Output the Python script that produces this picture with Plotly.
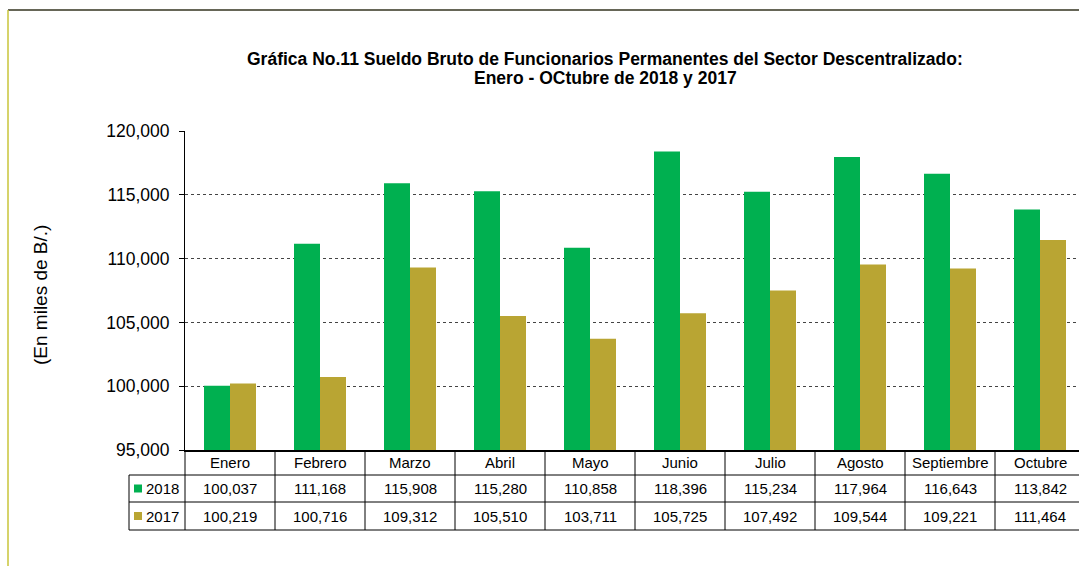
import plotly.graph_objects as go

# ---- data ----
months = ["Enero", "Febrero", "Marzo", "Abril", "Mayo", "Junio", "Julio",
          "Agosto", "Septiembre", "Octubre"]
series_names = ["2018", "2017"]
values_2018 = [100037, 111168, 115908, 115280, 110858, 118396, 115234,
               117964, 116643, 113842]
values_2017 = [100219, 100716, 109312, 105510, 103711, 105725, 107492,
               109544, 109221, 111464]
y_ticks = [95000, 100000, 105000, 110000, 115000, 120000]
title_lines = ["Gráfica No.11 Sueldo Bruto de Funcionarios Permanentes del Sector Descentralizado:",
               "Enero - OCtubre de 2018 y 2017"]
y_label = "(En miles de B/.)"

# ---- style / layout ----
W, H = 1079, 566
L, R, T, B = 185, 0, 131, 116
PW = W - L - R
PH = H - T - B
CAT_W = 90.0
GREEN = "#00B050"
GOLD = "#B9A533"
FONT = "Arial, Liberation Sans, sans-serif"
colors = [GREEN, GOLD]
series_vals = [values_2018, values_2017]

def px_x(px):
    return (px - L) / PW

def px_y(py):
    return (H - B - py) / PH

x_idx = list(range(len(months)))
fig = go.Figure()
for name, vals, col in zip(series_names, series_vals, colors):
    fig.add_trace(go.Bar(x=x_idx, y=vals, name=name, marker=dict(color=col, line=dict(width=0)),
                         showlegend=False))

x_max = -0.5 + PW / CAT_W

shapes = []
annotations = []

# table geometry (pixels)
plot_bottom = H - B
row1_bottom = 475
row2_bottom = 502
row3_bottom = 530
legend_left = 129

# vertical category boundary lines
for k in range(1, len(months) + 1):
    shapes.append(dict(type="line", xref="x", yref="paper", x0=k - 0.5, x1=k - 0.5,
                       y0=px_y(plot_bottom), y1=px_y(row3_bottom),
                       line=dict(color="black", width=1)))
shapes.append(dict(type="line", xref="paper", yref="paper", x0=0, x1=0,
                   y0=px_y(plot_bottom), y1=px_y(row3_bottom), line=dict(color="black", width=1)))
shapes.append(dict(type="line", xref="paper", yref="paper", x0=px_x(legend_left), x1=px_x(legend_left),
                   y0=px_y(row1_bottom), y1=px_y(row3_bottom), line=dict(color="black", width=1)))
for py in (row1_bottom, row2_bottom, row3_bottom):
    shapes.append(dict(type="line", xref="paper", yref="paper", x0=px_x(legend_left), x1=1.01,
                       y0=px_y(py), y1=px_y(py), line=dict(color="black", width=1)))

# header (month names) and values
row_centers = [(plot_bottom + row1_bottom) / 2, (row1_bottom + row2_bottom) / 2,
               (row2_bottom + row3_bottom) / 2]
for i, m in enumerate(months):
    annotations.append(dict(x=i, y=px_y(row_centers[0]), xref="x", yref="paper", text=m,
                            showarrow=False, font=dict(family=FONT, size=15, color="black"),
                            xanchor="center", yanchor="middle"))
    for r, vals in enumerate(series_vals):
        annotations.append(dict(x=i, y=px_y(row_centers[r + 1]), xref="x", yref="paper",
                                text=f"{vals[i]:,}", showarrow=False,
                                font=dict(family=FONT, size=15, color="black"),
                                xanchor="center", yanchor="middle"))

# legend keys
for r, (name, col) in enumerate(zip(series_names, colors)):
    cy = row_centers[r + 1]
    shapes.append(dict(type="rect", xref="paper", yref="paper", x0=px_x(134), x1=px_x(142),
                       y0=px_y(cy + 4), y1=px_y(cy - 4), fillcolor=col, line=dict(width=0)))
    annotations.append(dict(x=px_x(144), y=px_y(cy), xref="paper", yref="paper", text=name,
                            showarrow=False, font=dict(family=FONT, size=15, color="black"),
                            xanchor="left", yanchor="middle"))

# outer chart border
shapes.append(dict(type="line", xref="paper", yref="paper", x0=px_x(8), x1=px_x(1080),
                   y0=px_y(10), y1=px_y(10), line=dict(color="#33331f", width=1.5)))
shapes.append(dict(type="line", xref="paper", yref="paper", x0=px_x(8), x1=px_x(8),
                   y0=px_y(10), y1=px_y(566), line=dict(color="#C8C43A", width=1.5)))

# title (two lines)
for line_text, cy in zip(title_lines, (59, 78)):
    annotations.append(dict(x=px_x(605), y=px_y(cy), xref="paper", yref="paper",
                            text="<b>" + line_text + "</b>",
                            showarrow=False, font=dict(family=FONT, size=17.5, color="black"),
                            xanchor="center", yanchor="middle", align="center"))
# y axis label
annotations.append(dict(x=px_x(40), y=px_y(295), xref="paper", yref="paper", text=y_label,
                        textangle=-90, showarrow=False,
                        font=dict(family=FONT, size=19, color="black"),
                        xanchor="center", yanchor="middle"))

fig.update_layout(
    width=W, height=H,
    margin=dict(l=L, r=R, t=T, b=B, pad=0),
    paper_bgcolor="white", plot_bgcolor="white",
    barmode="group", bargap=1 - 52 / CAT_W, bargroupgap=0,
    font=dict(family=FONT, color="black"),
    shapes=shapes, annotations=annotations,
)
fig.update_xaxes(range=[-0.5, x_max], showticklabels=False, ticks="", showgrid=False,
                 showline=True, linecolor="black", linewidth=2, zeroline=False, fixedrange=True)
fig.update_yaxes(range=[y_ticks[0], y_ticks[-1]], tickvals=y_ticks,
                 ticktext=[f"{v:,}" for v in y_ticks],
                 ticks="outside", ticklen=5, tickcolor="black",
                 ticklabelstandoff=6,
                 tickfont=dict(family=FONT, size=17.5, color="black"),
                 showline=True, linecolor="black", linewidth=1,
                 showgrid=True, gridcolor="#444444", griddash="dot", gridwidth=1,
                 zeroline=False, fixedrange=True)

fig.write_html("out.html", config={"displayModeBar": False},
               post_script="document.body.style.margin='0';document.body.style.overflow='hidden';")
